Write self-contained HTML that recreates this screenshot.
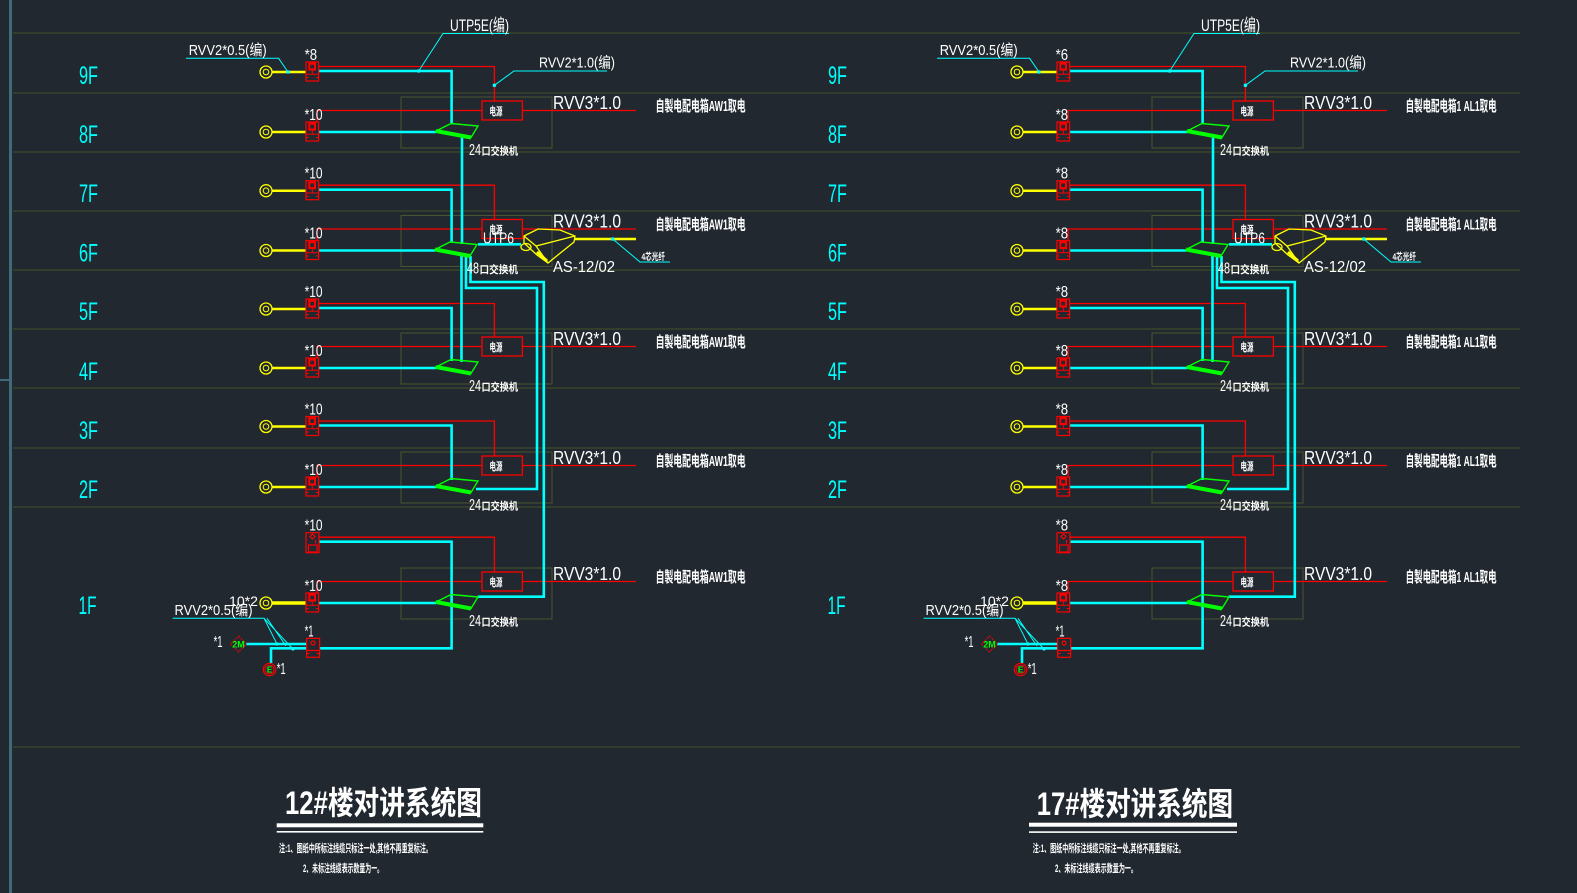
<!DOCTYPE html>
<html><head><meta charset="utf-8">
<style>
html,body{margin:0;padding:0;background:#212830;}
svg{display:block;}
text{font-family:"Liberation Sans","Noto Sans CJK SC",sans-serif;}
</style></head>
<body>
<svg width="1577" height="893" viewBox="0 0 1577 893" xmlns="http://www.w3.org/2000/svg">
<rect width="1577" height="893" fill="#212830"/>
<defs>
<g id="bx">
 <rect x="0" y="0" width="12.6" height="19" fill="none" stroke="#ff0000" stroke-width="1.2"/>
 <rect x="2.3" y="0.6" width="7.7" height="8" fill="#ff0000"/>
 <rect x="4.3" y="2.7" width="3.7" height="3.7" fill="#212830"/>
 <path d="M0 12.3H12.6M6.3 8.6V12.3M0 15.5H2.8M9.8 15.5H12.6" stroke="#ff0000" stroke-width="1" fill="none"/>
</g>
<g id="ring">
 <circle r="6" fill="none" stroke="#ffff00" stroke-width="1.3"/>
 <circle r="2.8" fill="none" stroke="#ffff00" stroke-width="1"/>
</g>
<g id="sw">
 <polygon points="0,-1 15,-8.5 42,-6 35,5.5" fill="none" stroke="#00ff00" stroke-width="1.4"/>
 <line x1="0" y1="-1" x2="35" y2="5.5" stroke="#00ff00" stroke-width="4"/>
</g>
</defs>

<!-- left border -->
<rect x="9" y="0" width="3" height="893" fill="#3e6a7c"/>
<rect x="0" y="379" width="9" height="2" fill="#3e6a7c"/>

<!-- floor lines -->
<g stroke="#3c4a28" stroke-width="1.2">
<line x1="13" y1="33" x2="1520" y2="33"/>
<line x1="13" y1="93" x2="1520" y2="93"/>
<line x1="13" y1="152" x2="1520" y2="152"/>
<line x1="13" y1="211" x2="1520" y2="211"/>
<line x1="13" y1="270" x2="1520" y2="270"/>
<line x1="13" y1="329" x2="1520" y2="329"/>
<line x1="13" y1="388" x2="1520" y2="388"/>
<line x1="13" y1="448" x2="1520" y2="448"/>
<line x1="13" y1="507" x2="1520" y2="507"/>
<line x1="13" y1="747" x2="1520" y2="747"/>
</g>

<!-- floor labels -->
<g fill="#00ffff" font-size="25">
<text x="79" y="84" textLength="19" lengthAdjust="spacingAndGlyphs">9F</text>
<text x="79" y="143" textLength="19" lengthAdjust="spacingAndGlyphs">8F</text>
<text x="79" y="202" textLength="19" lengthAdjust="spacingAndGlyphs">7F</text>
<text x="79" y="261.5" textLength="19" lengthAdjust="spacingAndGlyphs">6F</text>
<text x="79" y="320" textLength="19" lengthAdjust="spacingAndGlyphs">5F</text>
<text x="79" y="380" textLength="19" lengthAdjust="spacingAndGlyphs">4F</text>
<text x="79" y="439" textLength="19" lengthAdjust="spacingAndGlyphs">3F</text>
<text x="79" y="498" textLength="19" lengthAdjust="spacingAndGlyphs">2F</text>
<text x="78.5" y="614" textLength="18" lengthAdjust="spacingAndGlyphs">1F</text>
<text x="828" y="84" textLength="19" lengthAdjust="spacingAndGlyphs">9F</text>
<text x="828" y="143" textLength="19" lengthAdjust="spacingAndGlyphs">8F</text>
<text x="828" y="202" textLength="19" lengthAdjust="spacingAndGlyphs">7F</text>
<text x="828" y="261.5" textLength="19" lengthAdjust="spacingAndGlyphs">6F</text>
<text x="828" y="320" textLength="19" lengthAdjust="spacingAndGlyphs">5F</text>
<text x="828" y="380" textLength="19" lengthAdjust="spacingAndGlyphs">4F</text>
<text x="828" y="439" textLength="19" lengthAdjust="spacingAndGlyphs">3F</text>
<text x="828" y="498" textLength="19" lengthAdjust="spacingAndGlyphs">2F</text>
<text x="827.5" y="614" textLength="18" lengthAdjust="spacingAndGlyphs">1F</text>
</g>

<!-- LEFT DIAGRAM SHAPES -->
<g id="L">
 <!-- olive rects -->
 <g fill="none" stroke="#4a5530" stroke-width="1">
  <rect x="401" y="97" width="151" height="51"/>
  <rect x="401" y="215.5" width="151" height="51"/>
  <rect x="401" y="333" width="151" height="51"/>
  <rect x="401" y="452" width="151" height="51"/>
  <rect x="401" y="568" width="151" height="51"/>
 </g>
 <!-- red lines -->
 <g fill="none" stroke="#ff0000" stroke-width="1.3">
  <path d="M318 66.5H494.4V101"/>
  <path d="M318 185.2H494.4V219.5"/>
  <path d="M318 303.5H494.4V337"/>
  <path d="M318 421H494.4V456"/>
  <path d="M319 537.2H494.4V572"/>
  <path d="M317 122V110.5H636"/>
  <path d="M317 240.5V229H636"/>
  <path d="M317 358V346.5H636"/>
  <path d="M317 477V465.5H636"/>
  <path d="M317 593V581.5H636"/>
 </g>
 <!-- electric boxes -->
 <g fill="#212830" stroke="#ff0000" stroke-width="1.3">
  <rect x="482" y="101" width="40.4" height="19"/>
  <rect x="482" y="219.5" width="40.4" height="19"/>
  <rect x="482" y="337" width="40.4" height="19"/>
  <rect x="482" y="456" width="40.4" height="19"/>
  <rect x="482" y="572" width="40.4" height="19"/>
 </g>
 <!-- cyan thick -->
 <g fill="none" stroke="#00ffff" stroke-width="2.6">
  <path d="M318 71H451.6V124"/>
  <path d="M318 132H436"/>
  <path d="M318 189.7H451.6V242"/>
  <path d="M318 250.5H435"/>
  <path d="M318 308H451.6V361"/>
  <path d="M318 368H436"/>
  <path d="M318 425.5H451.6V480"/>
  <path d="M318 487H436"/>
  <path d="M319 541.7H451.6V648.3H319.6"/>
  <path d="M318 603H436"/>
  <path d="M462 134V244"/>
  <path d="M461.5 255V362"/>
  <path d="M466 256V288H537V489H476"/>
  <path d="M470.5 256V282H543.8V596.7H477.6"/>
  <path d="M478 244.3H521"/>
  <path d="M246 644H306.6"/>
  <path d="M306.6 648.3H271V663"/>
 </g>
 <!-- yellow lines -->
 <g stroke="#ffff00" stroke-width="2.5">
  <line x1="272" y1="72" x2="306" y2="72"/>
  <line x1="272" y1="132" x2="306" y2="132"/>
  <line x1="272" y1="190.7" x2="306" y2="190.7"/>
  <line x1="272" y1="250.5" x2="306" y2="250.5"/>
  <line x1="272" y1="309" x2="306" y2="309"/>
  <line x1="272" y1="368" x2="306" y2="368"/>
  <line x1="272" y1="426.5" x2="306" y2="426.5"/>
  <line x1="272" y1="487" x2="306" y2="487"/>
  <line x1="272" y1="603" x2="306" y2="603" stroke-width="3.5"/>
  <line x1="575" y1="239" x2="636" y2="239"/>
 </g>
 <!-- rings -->
 <use href="#ring" x="266" y="72"/>
 <use href="#ring" x="266" y="132"/>
 <use href="#ring" x="266" y="190.7"/>
 <use href="#ring" x="266" y="250.5"/>
 <use href="#ring" x="266" y="309"/>
 <use href="#ring" x="266" y="368"/>
 <use href="#ring" x="266" y="426.5"/>
 <use href="#ring" x="266" y="487"/>
 <use href="#ring" x="266" y="603"/>
 <!-- boxes -->
 <use href="#bx" x="306" y="62"/>
 <use href="#bx" x="306" y="122"/>
 <use href="#bx" x="306" y="180.7"/>
 <use href="#bx" x="306" y="240.5"/>
 <use href="#bx" x="306" y="299"/>
 <use href="#bx" x="306" y="358"/>
 <use href="#bx" x="306" y="416.5"/>
 <use href="#bx" x="306" y="477"/>
 <use href="#bx" x="306" y="593"/>
 <!-- 1F special boxes -->
 <g fill="none" stroke="#ff0000" stroke-width="1.2">
  <rect x="306" y="532.7" width="13" height="20"/>
  <polygon points="312.5,534 315,536.5 312.5,539 310,536.5"/>
  <line x1="315.5" y1="540" x2="315.5" y2="543.5"/>
  <rect x="308.5" y="545" width="8.5" height="7"/>
  <rect x="306.6" y="638.3" width="13" height="19"/>
  <circle cx="313" cy="643" r="2"/>
  <path d="M306.6 650.5H319.6M306.6 653.5H309.5M316.7 653.5H319.6"/>
 </g>
 <!-- switches -->
 <use href="#sw" x="436" y="132"/>
 <use href="#sw" x="435" y="250.5"/>
 <use href="#sw" x="436" y="368"/>
 <use href="#sw" x="436" y="487"/>
 <use href="#sw" x="436" y="603"/>
 <!-- AS device -->
 <g fill="none" stroke="#ffff00" stroke-width="1.3">
  <polygon points="524,236 538,229 560,230 575,236 574,242 548,263 537,255 524,243"/>
  <path d="M524 236L536 246L575 236M536 246L548 263"/>
  <ellipse cx="526" cy="247" rx="5" ry="3.5"/>
  <line x1="537" y1="252" x2="547" y2="261" stroke-width="3"/>
 </g>
 <!-- thin cyan leaders -->
 <g fill="none" stroke="#00ffff" stroke-width="1">
  <path d="M186 58.3H278.6L288 72"/>
  <path d="M509 33.5H443L418.7 71"/>
  <path d="M607 71H514L494.4 85.3"/>
  <path d="M670 262H640L612.7 239"/>
  <path d="M172.6 618.3H264L277 644M264 618.3L293 649M267 618.3L286 646"/>
 </g>
 <g fill="#00ffff">
  <circle cx="288" cy="72" r="1.8"/>
  <circle cx="418.7" cy="71" r="1.8"/>
  <circle cx="494.4" cy="85.3" r="1.8"/>
  <circle cx="612.7" cy="239" r="1.8"/>
  <circle cx="277" cy="644" r="1.6"/>
  <circle cx="293" cy="649" r="1.6"/>
 </g>
 <!-- 2M diamond and E circle -->
 <polygon points="238.5,636 246.5,644 238.5,652 230.5,644" fill="none" stroke="#ff0000" stroke-width="1" stroke-dasharray="2,1.2"/>
 <circle cx="269.5" cy="669.5" r="6.2" fill="none" stroke="#ff0000" stroke-width="1.2"/>
 <circle cx="269.5" cy="669.5" r="4.4" fill="none" stroke="#ff0000" stroke-width="1"/>
</g>

<!-- RIGHT DIAGRAM SHAPES -->
<use href="#L" x="751" y="0"/>

<!-- TEXT LEFT -->
<g fill="#ffffff">
 <text x="188.7" y="55" font-size="15" textLength="78" lengthAdjust="spacingAndGlyphs">RVV2*0.5(编)</text>
 <text x="450" y="31" font-size="17" textLength="59" lengthAdjust="spacingAndGlyphs">UTP5E(编)</text>
 <text x="539" y="67.5" font-size="15" textLength="76" lengthAdjust="spacingAndGlyphs">RVV2*1.0(编)</text>
 <g font-size="15.5">
  <text x="304.6" y="60" textLength="12.5" lengthAdjust="spacingAndGlyphs">*8</text>
  <text x="304.6" y="120" textLength="18" lengthAdjust="spacingAndGlyphs">*10</text>
  <text x="304.6" y="178.7" textLength="18" lengthAdjust="spacingAndGlyphs">*10</text>
  <text x="304.6" y="238.5" textLength="18" lengthAdjust="spacingAndGlyphs">*10</text>
  <text x="304.6" y="297" textLength="18" lengthAdjust="spacingAndGlyphs">*10</text>
  <text x="304.6" y="356" textLength="18" lengthAdjust="spacingAndGlyphs">*10</text>
  <text x="304.6" y="414.5" textLength="18" lengthAdjust="spacingAndGlyphs">*10</text>
  <text x="304.6" y="475" textLength="18" lengthAdjust="spacingAndGlyphs">*10</text>
  <text x="304.6" y="530.7" textLength="18" lengthAdjust="spacingAndGlyphs">*10</text>
  <text x="304.6" y="591" textLength="18" lengthAdjust="spacingAndGlyphs">*10</text>
  <text x="304.6" y="636.3" textLength="9" lengthAdjust="spacingAndGlyphs">*1</text>
  <text x="213.6" y="647" textLength="9" lengthAdjust="spacingAndGlyphs">*1</text>
  <text x="276.7" y="674" textLength="9" lengthAdjust="spacingAndGlyphs">*1</text>
 </g>
 <g font-size="18">
  <text x="553" y="109" textLength="68" lengthAdjust="spacingAndGlyphs">RVV3*1.0</text>
  <text x="553" y="227.5" textLength="68" lengthAdjust="spacingAndGlyphs">RVV3*1.0</text>
  <text x="553" y="345" textLength="68" lengthAdjust="spacingAndGlyphs">RVV3*1.0</text>
  <text x="553" y="464" textLength="68" lengthAdjust="spacingAndGlyphs">RVV3*1.0</text>
  <text x="553" y="580" textLength="68" lengthAdjust="spacingAndGlyphs">RVV3*1.0</text>
 </g>
 <g font-size="15" font-weight="bold">
  <text x="655.6" y="111" textLength="90" lengthAdjust="spacingAndGlyphs">自製电配电箱AW1取电</text>
  <text x="655.6" y="229.5" textLength="90" lengthAdjust="spacingAndGlyphs">自製电配电箱AW1取电</text>
  <text x="655.6" y="347" textLength="90" lengthAdjust="spacingAndGlyphs">自製电配电箱AW1取电</text>
  <text x="655.6" y="466" textLength="90" lengthAdjust="spacingAndGlyphs">自製电配电箱AW1取电</text>
  <text x="655.6" y="582" textLength="90" lengthAdjust="spacingAndGlyphs">自製电配电箱AW1取电</text>
 </g>
 <g font-size="16">
  <text x="469" y="155" textLength="12" lengthAdjust="spacingAndGlyphs">24</text>
  <text x="467" y="273.5" textLength="12" lengthAdjust="spacingAndGlyphs">48</text>
  <text x="469" y="391" textLength="12" lengthAdjust="spacingAndGlyphs">24</text>
  <text x="469" y="510" textLength="12" lengthAdjust="spacingAndGlyphs">24</text>
  <text x="469" y="626" textLength="12" lengthAdjust="spacingAndGlyphs">24</text>
 </g>
 <g font-size="10.5" font-weight="bold">
  <text x="481.5" y="154.5" textLength="36.5" lengthAdjust="spacingAndGlyphs">口交换机</text>
  <text x="479.5" y="273" textLength="38.5" lengthAdjust="spacingAndGlyphs">口交换机</text>
  <text x="481.5" y="390.5" textLength="36.5" lengthAdjust="spacingAndGlyphs">口交换机</text>
  <text x="481.5" y="509.5" textLength="36.5" lengthAdjust="spacingAndGlyphs">口交换机</text>
  <text x="481.5" y="625.5" textLength="36.5" lengthAdjust="spacingAndGlyphs">口交换机</text>
 </g>
 <g font-size="11" font-weight="bold">
  <text x="489.5" y="115" textLength="13" lengthAdjust="spacingAndGlyphs">电源</text>
  <text x="489.5" y="233.5" textLength="13" lengthAdjust="spacingAndGlyphs">电源</text>
  <text x="489.5" y="351" textLength="13" lengthAdjust="spacingAndGlyphs">电源</text>
  <text x="489.5" y="470" textLength="13" lengthAdjust="spacingAndGlyphs">电源</text>
  <text x="489.5" y="586" textLength="13" lengthAdjust="spacingAndGlyphs">电源</text>
 </g>
 <text x="483" y="243.5" font-size="16" textLength="31" lengthAdjust="spacingAndGlyphs">UTP6</text>
 <text x="553" y="272" font-size="16" textLength="62" lengthAdjust="spacingAndGlyphs">AS-12/02</text>
 <text x="641.5" y="260" font-size="9.5" font-weight="bold" textLength="23.5" lengthAdjust="spacingAndGlyphs">4芯光纤</text>
 <text x="174.5" y="615" font-size="15" textLength="78" lengthAdjust="spacingAndGlyphs">RVV2*0.5(编)</text>
 <text x="229" y="606" font-size="14" textLength="29" lengthAdjust="spacingAndGlyphs">10*2</text>
</g>
<text x="238.5" y="647.5" font-size="9" font-weight="bold" fill="#00ff00" text-anchor="middle">2M</text>
<text x="269.5" y="672.5" font-size="8" font-weight="bold" fill="#00ff00" text-anchor="middle">E</text>

<!-- TEXT RIGHT -->
<g fill="#ffffff">
 <text x="939.7" y="55" font-size="15" textLength="78" lengthAdjust="spacingAndGlyphs">RVV2*0.5(编)</text>
 <text x="1201" y="31" font-size="17" textLength="59" lengthAdjust="spacingAndGlyphs">UTP5E(编)</text>
 <text x="1290" y="67.5" font-size="15" textLength="76" lengthAdjust="spacingAndGlyphs">RVV2*1.0(编)</text>
 <g font-size="15.5">
  <text x="1055.6" y="60" textLength="12.5" lengthAdjust="spacingAndGlyphs">*6</text>
  <text x="1055.6" y="120" textLength="12.5" lengthAdjust="spacingAndGlyphs">*8</text>
  <text x="1055.6" y="178.7" textLength="12.5" lengthAdjust="spacingAndGlyphs">*8</text>
  <text x="1055.6" y="238.5" textLength="12.5" lengthAdjust="spacingAndGlyphs">*8</text>
  <text x="1055.6" y="297" textLength="12.5" lengthAdjust="spacingAndGlyphs">*8</text>
  <text x="1055.6" y="356" textLength="12.5" lengthAdjust="spacingAndGlyphs">*8</text>
  <text x="1055.6" y="414.5" textLength="12.5" lengthAdjust="spacingAndGlyphs">*8</text>
  <text x="1055.6" y="475" textLength="12.5" lengthAdjust="spacingAndGlyphs">*8</text>
  <text x="1055.6" y="530.7" textLength="12.5" lengthAdjust="spacingAndGlyphs">*8</text>
  <text x="1055.6" y="591" textLength="12.5" lengthAdjust="spacingAndGlyphs">*8</text>
  <text x="1055.6" y="636.3" textLength="9" lengthAdjust="spacingAndGlyphs">*1</text>
  <text x="964.6" y="647" textLength="9" lengthAdjust="spacingAndGlyphs">*1</text>
  <text x="1027.7" y="674" textLength="9" lengthAdjust="spacingAndGlyphs">*1</text>
 </g>
 <g font-size="18">
  <text x="1304" y="109" textLength="68" lengthAdjust="spacingAndGlyphs">RVV3*1.0</text>
  <text x="1304" y="227.5" textLength="68" lengthAdjust="spacingAndGlyphs">RVV3*1.0</text>
  <text x="1304" y="345" textLength="68" lengthAdjust="spacingAndGlyphs">RVV3*1.0</text>
  <text x="1304" y="464" textLength="68" lengthAdjust="spacingAndGlyphs">RVV3*1.0</text>
  <text x="1304" y="580" textLength="68" lengthAdjust="spacingAndGlyphs">RVV3*1.0</text>
 </g>
 <g font-size="15" font-weight="bold">
  <text x="1405.6" y="111" textLength="91" lengthAdjust="spacingAndGlyphs">自製电配电箱1 AL1取电</text>
  <text x="1405.6" y="229.5" textLength="91" lengthAdjust="spacingAndGlyphs">自製电配电箱1 AL1取电</text>
  <text x="1405.6" y="347" textLength="91" lengthAdjust="spacingAndGlyphs">自製电配电箱1 AL1取电</text>
  <text x="1405.6" y="466" textLength="91" lengthAdjust="spacingAndGlyphs">自製电配电箱1 AL1取电</text>
  <text x="1405.6" y="582" textLength="91" lengthAdjust="spacingAndGlyphs">自製电配电箱1 AL1取电</text>
 </g>
 <g font-size="16">
  <text x="1220" y="155" textLength="12" lengthAdjust="spacingAndGlyphs">24</text>
  <text x="1218" y="273.5" textLength="12" lengthAdjust="spacingAndGlyphs">48</text>
  <text x="1220" y="391" textLength="12" lengthAdjust="spacingAndGlyphs">24</text>
  <text x="1220" y="510" textLength="12" lengthAdjust="spacingAndGlyphs">24</text>
  <text x="1220" y="626" textLength="12" lengthAdjust="spacingAndGlyphs">24</text>
 </g>
 <g font-size="10.5" font-weight="bold">
  <text x="1232.5" y="154.5" textLength="36.5" lengthAdjust="spacingAndGlyphs">口交换机</text>
  <text x="1230.5" y="273" textLength="38.5" lengthAdjust="spacingAndGlyphs">口交换机</text>
  <text x="1232.5" y="390.5" textLength="36.5" lengthAdjust="spacingAndGlyphs">口交换机</text>
  <text x="1232.5" y="509.5" textLength="36.5" lengthAdjust="spacingAndGlyphs">口交换机</text>
  <text x="1232.5" y="625.5" textLength="36.5" lengthAdjust="spacingAndGlyphs">口交换机</text>
 </g>
 <g font-size="11" font-weight="bold">
  <text x="1240.5" y="115" textLength="13" lengthAdjust="spacingAndGlyphs">电源</text>
  <text x="1240.5" y="233.5" textLength="13" lengthAdjust="spacingAndGlyphs">电源</text>
  <text x="1240.5" y="351" textLength="13" lengthAdjust="spacingAndGlyphs">电源</text>
  <text x="1240.5" y="470" textLength="13" lengthAdjust="spacingAndGlyphs">电源</text>
  <text x="1240.5" y="586" textLength="13" lengthAdjust="spacingAndGlyphs">电源</text>
 </g>
 <text x="1234" y="243.5" font-size="16" textLength="31" lengthAdjust="spacingAndGlyphs">UTP6</text>
 <text x="1304" y="272" font-size="16" textLength="62" lengthAdjust="spacingAndGlyphs">AS-12/02</text>
 <text x="1392.5" y="260" font-size="9.5" font-weight="bold" textLength="23.5" lengthAdjust="spacingAndGlyphs">4芯光纤</text>
 <text x="925.5" y="615" font-size="15" textLength="78" lengthAdjust="spacingAndGlyphs">RVV2*0.5(编)</text>
 <text x="980" y="606" font-size="14" textLength="29" lengthAdjust="spacingAndGlyphs">10*2</text>
</g>
<text x="989.5" y="647.5" font-size="9" font-weight="bold" fill="#00ff00" text-anchor="middle">2M</text>
<text x="1020.5" y="672.5" font-size="8" font-weight="bold" fill="#00ff00" text-anchor="middle">E</text>

<!-- TITLES -->
<g fill="#ffffff">
 <text x="285" y="814" font-size="32" font-weight="bold" textLength="197" lengthAdjust="spacingAndGlyphs">12#楼对讲系统图</text>
 <rect x="276.7" y="823.3" width="206.6" height="4"/>
 <rect x="276.7" y="831" width="206.6" height="1.6"/>
 <text x="279" y="852" font-size="11" font-weight="bold" textLength="153" lengthAdjust="spacingAndGlyphs">注:1、图纸中所标注线缆只标注一处,其他不再重复标注。</text>
 <text x="303" y="872" font-size="11" font-weight="bold" textLength="80" lengthAdjust="spacingAndGlyphs">2、未标注线缆表示数量为一。</text>

 <text x="1036.7" y="815" font-size="32" font-weight="bold" textLength="196.5" lengthAdjust="spacingAndGlyphs">17#楼对讲系统图</text>
 <rect x="1029" y="822.7" width="208" height="4"/>
 <rect x="1029" y="831.3" width="208" height="1.6"/>
 <text x="1032.7" y="852" font-size="11" font-weight="bold" textLength="152" lengthAdjust="spacingAndGlyphs">注:1、图纸中所标注线缆只标注一处,其他不再重复标注。</text>
 <text x="1055" y="872" font-size="11" font-weight="bold" textLength="82" lengthAdjust="spacingAndGlyphs">2、未标注线缆表示数量为一。</text>
</g>
</svg>
</body></html>
